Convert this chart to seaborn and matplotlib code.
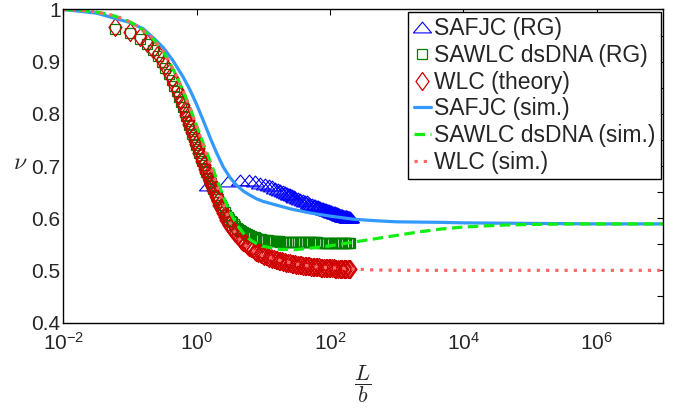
import numpy as np
import matplotlib
matplotlib.use("Agg")
import matplotlib.pyplot as plt
from matplotlib.path import Path
from matplotlib.ticker import FixedLocator, FuncFormatter, NullLocator
import seaborn as sns

# ---------------------------------------------------------------------------
# Renormalisation-group results
# ---------------------------------------------------------------------------
# SAFJC (RG): chain lengths L/b on multiples of 1.5
safjc_rg_L = [1.5, 3, 4.5, 6, 7.5, 9, 10.5, 12, 13.5, 15, 16.5, 18, 19.5, 21,
              22.5, 24, 25.5, 27, 28.5, 30, 33, 36, 39, 42, 45, 48, 51, 54, 57,
              60, 63, 66, 69, 72, 75, 78, 81, 84, 87, 90, 93, 96, 99, 102, 105,
              108, 111, 114, 117, 120, 123, 126, 129, 132, 135, 138, 141, 144,
              147, 150, 153, 156, 159, 162, 165, 168, 171, 174, 177, 180, 183,
              186, 189, 192, 195, 199.5]
safjc_rg_nu = [0.664, 0.672, 0.674, 0.673, 0.671, 0.668, 0.666, 0.663, 0.661,
               0.658, 0.656, 0.654, 0.653, 0.651, 0.649, 0.647, 0.646, 0.644,
               0.643, 0.641, 0.639, 0.637, 0.635, 0.633, 0.632, 0.630, 0.628,
               0.627, 0.626, 0.625, 0.624, 0.623, 0.622, 0.621, 0.620, 0.619,
               0.618, 0.617, 0.617, 0.616, 0.615, 0.615, 0.614, 0.613, 0.613,
               0.612, 0.612, 0.611, 0.611, 0.610, 0.610, 0.609, 0.609, 0.608,
               0.608, 0.608, 0.607, 0.607, 0.606, 0.606, 0.606, 0.605, 0.605,
               0.605, 0.605, 0.604, 0.604, 0.604, 0.604, 0.604, 0.603, 0.603,
               0.603, 0.603, 0.603, 0.603]

# SAWLC dsDNA (RG) and WLC theory share one grid of L/b
theory_L = [0.06, 0.10, 0.14, 0.18, 0.22, 0.26, 0.30, 0.34, 0.38, 0.42, 0.46,
            0.50, 0.54, 0.58, 0.62, 0.66, 0.70, 0.74, 0.78, 0.82, 0.86, 0.90,
            0.94, 0.98,
            1.04, 1.10, 1.16, 1.22, 1.28, 1.34, 1.40, 1.46, 1.52, 1.58, 1.64,
            1.70, 1.78, 1.86, 1.94,
            2.0, 2.1, 2.2, 2.3, 2.4, 2.5, 2.65, 2.8, 2.95, 3.1, 3.25, 3.4, 3.6,
            3.8, 4.0, 4.2, 4.4, 4.6, 4.8,
            5.0, 5.3, 5.6, 5.9, 6.2, 6.6, 7.0, 7.4, 7.8, 8.3, 8.8, 9.3, 9.8,
            10.4, 11, 11.6, 12.3, 13, 13.7, 14.5, 15.3, 16.2, 17.1, 18, 19,
            20, 21, 22, 23.5, 25, 26.5, 28, 29.5, 31, 33, 35, 37, 39, 41.5, 44,
            46.5, 49, 52, 55, 58, 61.5, 65, 69, 73, 77, 81, 86, 91, 96, 101,
            107, 113, 119, 125, 132, 139, 146, 153, 161, 169, 177, 185, 193,
            200]
wlc_theory_nu = [0.966, 0.957, 0.947, 0.936, 0.925, 0.914, 0.903, 0.891, 0.879,
                 0.868, 0.857, 0.846, 0.836, 0.826, 0.816, 0.807, 0.798, 0.789,
                 0.781, 0.773, 0.765, 0.757, 0.750, 0.743,
                 0.734, 0.725, 0.717, 0.710, 0.702, 0.695, 0.689, 0.683, 0.677,
                 0.671, 0.666, 0.661, 0.654, 0.648, 0.642,
                 0.638, 0.632, 0.626, 0.620, 0.615, 0.610, 0.603, 0.597, 0.592,
                 0.587, 0.583, 0.579, 0.575, 0.571, 0.567, 0.565, 0.562, 0.559,
                 0.557,
                 0.555, 0.552, 0.549, 0.547, 0.545, 0.542, 0.540, 0.538, 0.536,
                 0.534, 0.533, 0.531, 0.530, 0.528, 0.527, 0.526, 0.524, 0.523,
                 0.522, 0.521, 0.520, 0.519, 0.518, 0.518, 0.517,
                 0.516, 0.516, 0.515, 0.514, 0.514, 0.513, 0.512, 0.512, 0.511,
                 0.511, 0.510, 0.510, 0.509, 0.509, 0.508, 0.508, 0.508, 0.507,
                 0.507, 0.507, 0.506, 0.506, 0.506, 0.505, 0.505, 0.505, 0.505,
                 0.504, 0.504, 0.504, 0.504, 0.504, 0.503, 0.503, 0.503, 0.503,
                 0.503, 0.502, 0.502, 0.502, 0.502, 0.502, 0.502, 0.502]
sawlc_rg_nu = [0.963, 0.954, 0.944, 0.933, 0.922, 0.911, 0.900, 0.888, 0.876,
               0.865, 0.854, 0.843, 0.833, 0.823, 0.813, 0.804, 0.795, 0.786,
               0.778, 0.770, 0.762, 0.755, 0.748, 0.741,
               0.732, 0.724, 0.716, 0.709, 0.701, 0.694, 0.688, 0.682, 0.677,
               0.672, 0.667, 0.662, 0.656, 0.650, 0.645,
               0.641, 0.636, 0.631, 0.626, 0.622, 0.618, 0.612, 0.607, 0.603,
               0.599, 0.595, 0.592, 0.588, 0.585, 0.582, 0.580, 0.578, 0.576,
               0.574,
               0.573, 0.571, 0.569, 0.568, 0.567, 0.565, 0.564, 0.563, 0.562,
               0.561, 0.560, 0.560, 0.559, 0.559, 0.558, 0.558, 0.557, 0.557,
               0.557, 0.556, 0.556, 0.556, 0.556, 0.555, 0.555,
               0.555, 0.555, 0.555, 0.555, 0.555, 0.555, 0.555, 0.555, 0.555,
               0.554, 0.554, 0.554, 0.554, 0.554, 0.554, 0.554, 0.554, 0.554,
               0.554, 0.554, 0.554, 0.554, 0.553, 0.553, 0.553, 0.553, 0.553,
               0.553, 0.553, 0.553, 0.553, 0.553, 0.553, 0.553, 0.553, 0.553,
               0.553, 0.553, 0.553, 0.553, 0.553, 0.553, 0.553, 0.553]

# ---------------------------------------------------------------------------
# Simulation curves (log10 of L/b, nu)
# ---------------------------------------------------------------------------
safjc_sim_logL = [-2, -1.5, -1.0, -0.8, -0.62, -0.5, -0.36, -0.2, -0.1, 0.0, 0.1,
                  0.2, 0.3, 0.4, 0.5, 0.6, 0.7, 0.8, 0.9, 1.0, 1.2, 1.4, 1.7,
                  2.0, 2.35, 2.7, 3.0, 3.65, 4.0, 5.0, 6.0, 7.0]
safjc_sim_nu = [1.000, 0.993, 0.975, 0.963, 0.942, 0.927, 0.903, 0.870, 0.846,
                0.818, 0.787, 0.755, 0.725, 0.698, 0.678, 0.663, 0.652, 0.644,
                0.637, 0.632, 0.625, 0.618, 0.610, 0.604, 0.598, 0.595, 0.593,
                0.592, 0.591, 0.590, 0.589, 0.589]

sawlc_sim_logL = [-2, -1.7, -1.5, -1.3, -1.1, -1.0, -0.9, -0.8, -0.7, -0.6, -0.5,
                  -0.4, -0.3, -0.2, -0.1, 0.0, 0.1, 0.2, 0.3, 0.4, 0.5, 0.6,
                  0.7, 0.8, 0.9, 1.0, 1.25, 1.5, 1.75, 2.0, 2.3, 2.75, 3.0, 3.3,
                  3.65, 4.0, 4.3, 4.65, 5.0, 5.65, 6.3, 7.0]
sawlc_sim_nu = [1.000, 0.998, 0.995, 0.990, 0.982, 0.976, 0.969, 0.960, 0.950,
                0.936, 0.919, 0.897, 0.872, 0.843, 0.811, 0.777, 0.743, 0.710,
                0.675, 0.641, 0.612, 0.588, 0.571, 0.559, 0.551, 0.546, 0.540,
                0.540, 0.543, 0.547, 0.553, 0.562, 0.567, 0.573, 0.579, 0.583,
                0.585, 0.587, 0.588, 0.589, 0.589, 0.589]

wlc_sim_logL = [-2, -1.7, -1.5, -1.3, -1.1, -1.0, -0.9, -0.8, -0.7, -0.6, -0.5,
                -0.4, -0.3, -0.2, -0.1, 0.0, 0.1, 0.2, 0.3, 0.4, 0.5, 0.6, 0.7,
                0.8, 0.9, 1.0, 1.25, 1.5, 1.75, 2.0, 2.3, 2.6, 3.0, 4.0, 5.0,
                6.0, 7.0]
wlc_sim_nu = [1.000, 0.998, 0.995, 0.990, 0.982, 0.976, 0.969, 0.960, 0.950,
              0.936, 0.919, 0.897, 0.872, 0.843, 0.811, 0.776, 0.740, 0.703,
              0.664, 0.628, 0.592, 0.566, 0.551, 0.541, 0.534, 0.528, 0.519,
              0.512, 0.507, 0.505, 0.503, 0.501, 0.500, 0.500, 0.500, 0.500,
              0.500]

x_ticks = [1e-2, 1e0, 1e2, 1e4, 1e6]
y_ticks = [0.4, 0.5, 0.6, 0.7, 0.8, 0.9, 1.0]
y_minor = [0.45, 0.55, 0.65, 0.75, 0.85, 0.95]

# ---------------------------------------------------------------------------
sns.set_theme(style="white")
plt.rcParams["font.family"] = ["Liberation Sans", "DejaVu Sans"]
plt.rcParams["axes.edgecolor"] = "black"
plt.rcParams["axes.linewidth"] = 1.0

fig = plt.figure(figsize=(6.82, 4.11), dpi=100)
ax = fig.add_axes([0.0928, 0.2153, 0.8798, 0.7616])

# open marker shapes: wide triangle and tall diamond
tri = Path([(0, 0.6), (-1, -0.6), (1, -0.6), (0, 0.6)], closed=True)
dia = Path([(0, 1), (0.72, 0), (0, -1), (-0.72, 0), (0, 1)], closed=True)

common = dict(estimator=None, errorbar=None, sort=False, ax=ax)

sns.lineplot(x=safjc_rg_L, y=safjc_rg_nu, marker=tri, linestyle="",
             markersize=13, mfc="none", markeredgecolor="#0000FF",
             markeredgewidth=0.8, color="#0000FF", label="SAFJC (RG)", **common)
sns.lineplot(x=theory_L, y=sawlc_rg_nu, marker="s", linestyle="",
             markersize=7, mfc="none", markeredgecolor="#008000",
             markeredgewidth=0.9, color="#008000",
             label="SAWLC dsDNA (RG)", **common)
sns.lineplot(x=theory_L, y=wlc_theory_nu, marker=dia, linestyle="",
             markersize=13, mfc="none", markeredgecolor="#D00000",
             markeredgewidth=0.9, color="#D00000", label="WLC (theory)",
             **common)

sns.lineplot(x=10 ** np.array(safjc_sim_logL), y=safjc_sim_nu,
             color="#3399FF", linewidth=2.3, label="SAFJC (sim.)", **common)
sns.lineplot(x=10 ** np.array(sawlc_sim_logL), y=sawlc_sim_nu,
             color="#11EE11", linewidth=2.3, label="SAWLC dsDNA (sim.)",
             **common)
sns.lineplot(x=10 ** np.array(wlc_sim_logL), y=wlc_sim_nu,
             color="#FF6666", linewidth=2.3, label="WLC (sim.)", **common)

lines = ax.get_lines()
lines[4].set_dashes([3.3, 1.7])
lines[5].set_dashes([1.0, 1.9])

ax.set_xscale("log")
ax.set_xlim(1e-2, 1e7)
ax.set_ylim(0.4, 1.0)

ax.xaxis.set_major_locator(FixedLocator(x_ticks))
ax.xaxis.set_minor_locator(NullLocator())
ax.xaxis.set_major_formatter(
    FuncFormatter(lambda v, p: r"$\mathregular{10^{%d}}$" % round(np.log10(v))))
ax.yaxis.set_major_locator(FixedLocator(y_ticks))
ax.yaxis.set_minor_locator(FixedLocator(y_minor))
ax.yaxis.set_major_formatter(FuncFormatter(lambda v, p: f"{v:g}"))

ax.tick_params(which="both", direction="in", top=True, right=True,
               length=4, width=0.8, color="black", labelsize=15)
ax.tick_params(axis="x", pad=7)
ax.tick_params(axis="y", pad=2)
for s in ax.spines.values():
    s.set_visible(True)
    s.set_color("black")
    s.set_linewidth(1.0)

ax.set_xlabel("")
ax.set_ylabel("")
fig.text(20 / 682, 1 - 163 / 411, r"$\nu$", math_fontfamily="cm",
         fontsize=17, ha="center", va="center")
fig.text(363 / 682, 1 - 384 / 411, r"$\dfrac{L}{b}$", math_fontfamily="cm",
         fontsize=16, ha="center", va="center")

leg = ax.legend(loc="upper right", bbox_to_anchor=(661 / 682, 1 - 11.7 / 411),
                bbox_transform=fig.transFigure, fontsize=16.5, frameon=True,
                fancybox=False, framealpha=1, edgecolor="black",
                handlelength=0.75, handletextpad=0.13, borderpad=0.25,
                labelspacing=0.16, borderaxespad=0, numpoints=1)
leg.get_frame().set_linewidth(1.0)

fig.savefig("out.png", dpi=100)
